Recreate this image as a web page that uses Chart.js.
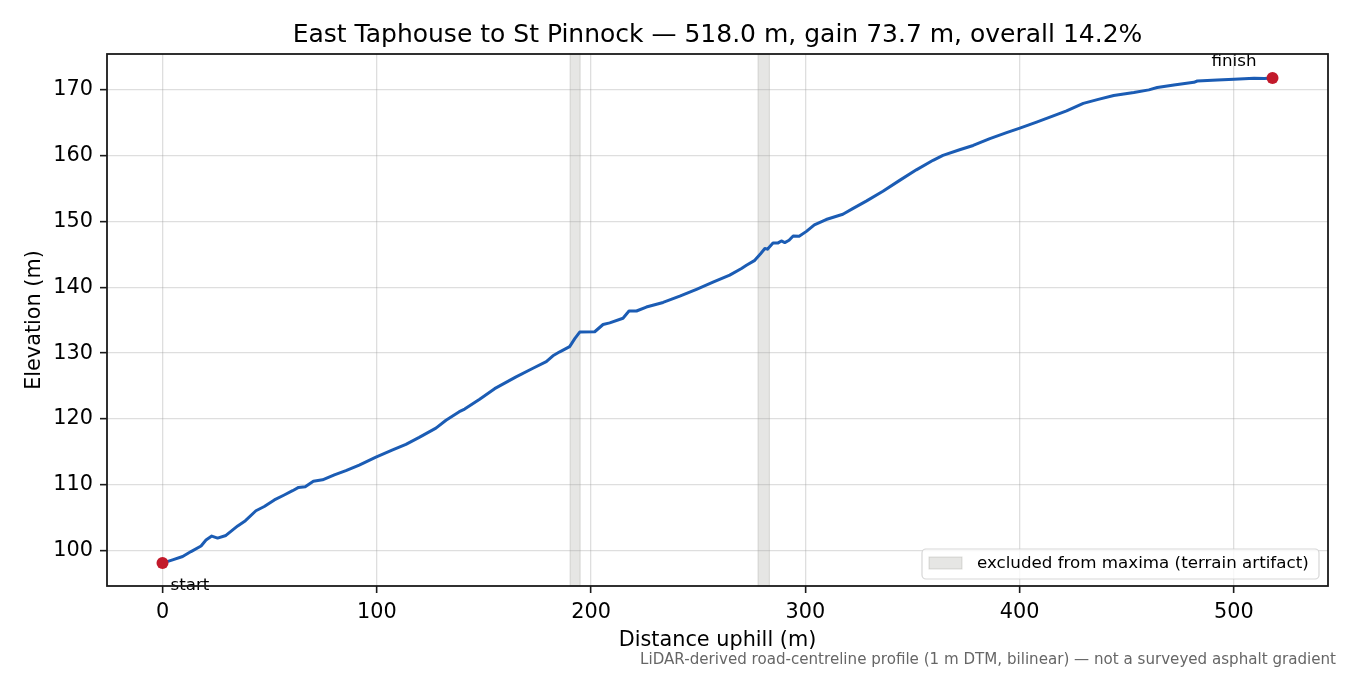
<!DOCTYPE html>
<html>
<head>
<meta charset="utf-8">
<script src="https://cdn.jsdelivr.net/npm/chart.js@4.4.1/dist/chart.umd.min.js"></script>
<style>
html,body{margin:0;padding:0;background:#ffffff;}
#wrap{width:1350px;height:675px;position:relative;}
canvas{display:block;}
</style>
</head>
<body>
<div id="wrap"><canvas id="c" width="1350" height="675"></canvas></div>
<script>
// ---- data ----
const distance = [0, 4.7, 9.4, 13.3, 18.0, 20.3, 23.0, 25.7, 29.6, 35.1, 38.7, 43.6, 47.5, 52.2, 56.8, 60.7, 63.5, 66.6, 70.4, 74.7,
  80.2, 85.6, 91.8, 99.6, 107.4, 113.6, 119.8, 127.6, 132.3, 138.5, 141.0, 148.0, 155.0, 165.0, 172.9, 179.1, 182.2, 185.4, 190.0, 192.4,
  194.7, 201.7, 205.6, 208.7, 214.9, 217.7, 221.2, 225.8, 233.6, 241.4, 249.2, 256.9, 264.7, 270.2, 272.5, 276.4, 279.1, 281.1, 282.3, 284.9,
  287.3, 288.8, 290.4, 292.4, 294.3, 297.1, 300.5, 304.2, 309.7, 317.5, 322.1, 328.4, 336.2, 344.0, 351.8, 359.6, 364.2, 372.0, 378.3, 386.1,
  393.9, 400.1, 407.9, 415.7, 421.9, 429.7, 436.7, 443.9, 453.3, 460.3, 464.2, 472.0, 481.3, 482.9, 492.3, 500.1, 509.4, 514.1, 518.0];
const elevation = [98.1, 98.6, 99.1, 99.85, 100.7, 101.6, 102.2, 101.9, 102.3, 103.75, 104.55, 106.05, 106.7, 107.7, 108.45, 109.1, 109.6, 109.7, 110.55, 110.75,
  111.5, 112.15, 113.0, 114.2, 115.3, 116.15, 117.2, 118.6, 119.8, 121.1, 121.5, 123.0, 124.6, 126.4, 127.7, 128.7, 129.6, 130.2, 131.0, 132.2,
  133.2, 133.25, 134.35, 134.6, 135.3, 136.4, 136.4, 137.0, 137.7, 138.65, 139.7, 140.8, 141.85, 142.85, 143.35, 144.1, 145.1, 145.9, 145.8, 146.75,
  146.75, 147.05, 146.8, 147.15, 147.8, 147.75, 148.5, 149.5, 150.3, 151.1, 151.95, 153.1, 154.6, 156.25, 157.85, 159.3, 160.05, 160.9, 161.55, 162.6,
  163.5, 164.2, 165.1, 166.05, 166.8, 167.95, 168.55, 169.15, 169.6, 170.0, 170.35, 170.75, 171.15, 171.35, 171.5, 171.6, 171.75, 171.72, 171.8];
const bandStarts = [190.2, 277.9];
const bandEnds = [194.9, 283.2];
const xTicks = [0, 100, 200, 300, 400, 500];
const yTicks = [100, 110, 120, 130, 140, 150, 160, 170];
const titleText = 'East Taphouse to St Pinnock — 518.0 m, gain 73.7 m, overall 14.2%';
const xLabel = 'Distance uphill (m)';
const yLabel = 'Elevation (m)';
const legendLabel = 'excluded from maxima (terrain artifact)';
const startLabel = 'start';
const finishLabel = 'finish';
const noteText = 'LiDAR-derived road-centreline profile (1 m DTM, bilinear) — not a surveyed asphalt gradient';

// ---- styles ----
const FONT = '"DejaVu Sans", "Liberation Sans", sans-serif';
const lineColor = '#1b5cb4';
const dotColor = '#c21a2b';
const bandFill = 'rgba(128,128,118,0.2)';
const bandEdge = 'rgba(128,128,118,0.25)';
const gridColor = 'rgba(160,160,160,0.35)';
const spineColor = '#1a1a1a';

const linePoints = distance.map((d, i) => ({x: d, y: elevation[i]}));
const endPoints = [
  {x: distance[0], y: elevation[0]},
  {x: distance[distance.length - 1], y: elevation[elevation.length - 1]}
];

const overlay = {
  id: 'overlay',
  beforeDraw(chart) {
    const {ctx, chartArea: a, scales: {x}} = chart;
    ctx.save();
    for (let i = 0; i < bandStarts.length; i++) {
      const x0 = x.getPixelForValue(bandStarts[i]);
      const x1 = x.getPixelForValue(bandEnds[i]);
      ctx.fillStyle = bandFill;
      ctx.fillRect(x0, a.top, x1 - x0, a.bottom - a.top);
      ctx.strokeStyle = bandEdge;
      ctx.lineWidth = 1;
      ctx.strokeRect(x0, a.top, x1 - x0, a.bottom - a.top);
    }
    ctx.restore();
  },
  afterDatasetsDraw(chart) {
    const {ctx, chartArea: a, scales: {x, y}} = chart;
    ctx.save();
    // annotations
    ctx.font = '16.7px ' + FONT;
    ctx.fillStyle = '#000';
    ctx.textBaseline = 'alphabetic';
    const sx = x.getPixelForValue(distance[0]);
    const sy = y.getPixelForValue(elevation[0]);
    ctx.textAlign = 'left';
    ctx.fillText(startLabel, sx + 8, sy + 27);
    const fx = x.getPixelForValue(distance[distance.length - 1]);
    const fy = y.getPixelForValue(elevation[elevation.length - 1]);
    ctx.textAlign = 'right';
    ctx.fillText(finishLabel, fx - 16, fy - 12);
    // spines
    ctx.strokeStyle = spineColor;
    ctx.lineWidth = 1.8;
    ctx.strokeRect(a.left, a.top, a.right - a.left, a.bottom - a.top);
    // legend (lower right, inside axes)
    const lw = 397, lh = 30;
    const lx = a.right - 9 - lw, ly = a.bottom - 7 - lh;
    ctx.beginPath();
    ctx.roundRect(lx, ly, lw, lh, 4);
    ctx.fillStyle = 'rgba(255,255,255,0.8)';
    ctx.fill();
    ctx.strokeStyle = 'rgba(204,204,204,0.8)';
    ctx.lineWidth = 1.2;
    ctx.stroke();
    ctx.fillStyle = bandFill;
    ctx.fillRect(lx + 7, ly + 8, 33, 12);
    ctx.strokeStyle = bandEdge;
    ctx.lineWidth = 1;
    ctx.strokeRect(lx + 7, ly + 8, 33, 12);
    ctx.fillStyle = '#000';
    ctx.textAlign = 'left';
    ctx.textBaseline = 'middle';
    ctx.font = '16.7px ' + FONT;
    ctx.fillText(legendLabel, lx + 55, ly + 15);
    ctx.restore();
  },
  afterDraw(chart) {
    const {ctx} = chart;
    ctx.save();
    ctx.font = '15.1px ' + FONT;
    ctx.fillStyle = '#666666';
    ctx.textAlign = 'right';
    ctx.textBaseline = 'middle';
    ctx.fillText(noteText, 1336, 660);
    ctx.restore();
  }
};

new Chart(document.getElementById('c'), {
  type: 'scatter',
  data: {
    datasets: [
      {
        label: 'endpoints',
        data: endPoints,
        showLine: false,
        pointRadius: 6,
        pointHoverRadius: 6,
        pointBackgroundColor: dotColor,
        pointBorderWidth: 0,
        borderWidth: 0
      },
      {
        label: 'profile',
        data: linePoints,
        showLine: true,
        borderColor: lineColor,
        borderWidth: 3,
        borderJoinStyle: 'round',
        borderCapStyle: 'round',
        pointRadius: 0,
        tension: 0,
        fill: false
      }
    ]
  },
  options: {
    responsive: false,
    animation: false,
    devicePixelRatio: 1,
    events: [],
    layout: {padding: {left: 0, right: 22, top: 0, bottom: 0}},
    plugins: {
      legend: {display: false},
      tooltip: {enabled: false},
      title: {
        display: true,
        fullSize: false,
        text: titleText,
        color: '#000',
        font: {family: FONT, size: 25, weight: 'normal', lineHeight: 1.2},
        padding: {top: 20, bottom: 4}
      }
    },
    scales: {
      x: {
        type: 'linear',
        min: -25.9,
        max: 543.9,
        afterBuildTicks: (s) => { s.ticks = xTicks.map(v => ({value: v})); },
        afterFit: (s) => { s.height = 89; },
        ticks: {
          color: '#000',
          font: {family: FONT, size: 20.8},
          padding: 7,
          maxRotation: 0,
          autoSkip: false,
          callback: (v) => String(v)
        },
        grid: {color: gridColor, lineWidth: 1.3, drawTicks: true, tickLength: 7, tickColor: spineColor, tickWidth: 1.6},
        border: {display: false},
        title: {display: true, text: xLabel, color: '#000', font: {family: FONT, size: 20.8, lineHeight: 1.2}, padding: {top: 0, bottom: 22}}
      },
      y: {
        type: 'linear',
        min: 94.62,
        max: 175.45,
        afterBuildTicks: (s) => { s.ticks = yTicks.map(v => ({value: v})); },
        afterFit: (s) => { s.width = 107; },
        ticks: {
          color: '#000',
          font: {family: FONT, size: 20.8},
          padding: 7,
          autoSkip: false,
          callback: (v) => String(v)
        },
        grid: {color: gridColor, lineWidth: 1.3, drawTicks: true, tickLength: 7, tickColor: spineColor, tickWidth: 1.6},
        border: {display: false},
        title: {display: true, text: yLabel, color: '#000', font: {family: FONT, size: 20.8, lineHeight: 1.2}, padding: {top: 22.5, bottom: 0}}
      }
    }
  },
  plugins: [overlay]
});
</script>
</body>
</html>
